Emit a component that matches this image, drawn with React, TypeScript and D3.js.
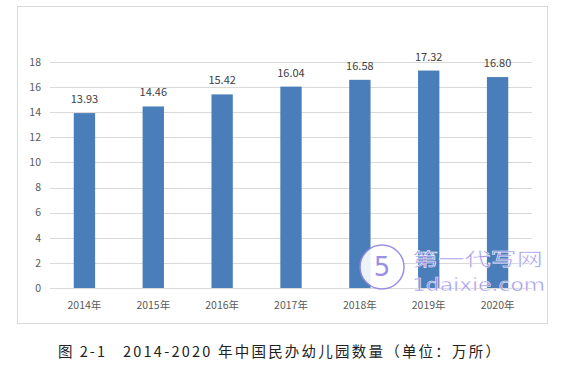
import React from "react";
import * as d3 from "d3";

const categories = ["2014年", "2015年", "2016年", "2017年", "2018年", "2019年", "2020年"];
const values = [13.93, 14.46, 15.42, 16.04, 16.58, 17.32, 16.8];
const valueLabels = ["13.93", "14.46", "15.42", "16.04", "16.58", "17.32", "16.80"];
const yTicks = [0, 2, 4, 6, 8, 10, 12, 14, 16, 18];
const captionLead = "图 2-1";
const captionRest = "2014-2020 年中国民办幼儿园数量（单位：万所）";
const watermarkTitle = "第一代写网";
const watermarkUrl = "1daixie.com";

const W = 561;
const H = 371;
const FONT = "'Noto Sans CJK SC', 'Noto Sans', sans-serif";

export default function App() {
  const x = d3.scaleBand<string>().domain(categories).range([50, 532]).paddingInner(0.69).paddingOuter(0.345);
  const y = d3.scaleLinear().domain([0, 18]).range([288, 62]);

  return (
    <svg
      width={W}
      height={H}
      style={{ position: "absolute", left: 0, top: 0, background: "#fff" }}
      fontFamily={FONT}
    >
      <rect x={17.5} y={6.5} width={530} height={317} fill="#fff" stroke="#d9d9d9" />
      {yTicks.map((t) => (
        <g key={t}>
          <line x1={50} x2={532} y1={Math.round(y(t)) + 0.5} y2={Math.round(y(t)) + 0.5} stroke="#d9d9d9" />
          <text x={41} y={y(t)} dy="0.36em" textAnchor="end" fontSize={10.5} fill="#595959">
            {t}
          </text>
        </g>
      ))}
      {values.map((v, i) => {
        const c = categories[i];
        const bx = x(c)!;
        const bw = x.bandwidth();
        return (
          <g key={c}>
            <rect x={bx} y={y(v)} width={bw} height={y(0) - y(v)} fill="#4a7ebb" />
            <text x={bx + bw / 2} y={y(v) - 10} textAnchor="middle" fontSize={11} fill="#404040">
              {valueLabels[i]}
            </text>
            <text x={bx + bw / 2} y={309} textAnchor="middle" fontSize={10.5} fill="#595959">
              {c}
            </text>
          </g>
        );
      })}
      <g opacity={0.9}>
        <circle cx={382} cy={267} r={22} fill="#fff" stroke="#8f86e6" strokeWidth={1.5} />
        <text x={382} y={276} textAnchor="middle" fontSize={26} fill="#8f86e6" fontFamily="'DejaVu Sans', sans-serif">
          5
        </text>
        <text
          x={412}
          y={266}
          fontSize={18}
          fill="#8f86e6"
          stroke="#fff"
          strokeWidth={0.5}
          textLength={131}
          lengthAdjust="spacingAndGlyphs"
        >
          {watermarkTitle}
        </text>
        <text
          x={412}
          y={291}
          fontSize={18}
          fill="#8f86e6"
          stroke="#fff"
          strokeWidth={0.5}
          textLength={133}
          lengthAdjust="spacingAndGlyphs"
          fontFamily="'DejaVu Sans', sans-serif"
        >
          {watermarkUrl}
        </text>
      </g>
      <text x={58} y={357} fontSize={14.5} fill="#222" textLength={47} lengthAdjust="spacing">
        {captionLead}
      </text>
      <text x={123} y={357} fontSize={14.5} fill="#222" textLength={377} lengthAdjust="spacing">
        {captionRest}
      </text>
    </svg>
  );
}
